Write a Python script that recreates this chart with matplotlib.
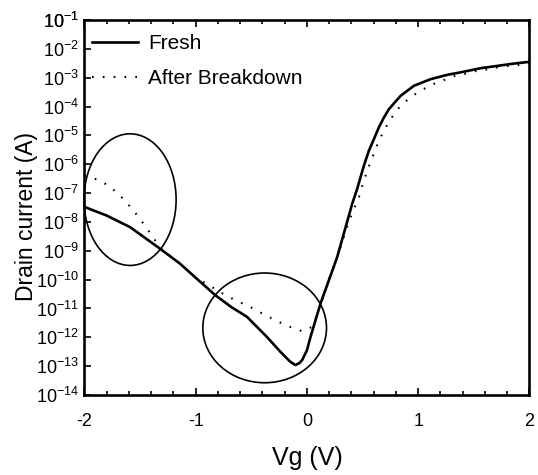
import numpy as np
import matplotlib
matplotlib.use("Agg")
import matplotlib.pyplot as plt
from matplotlib import font_manager
from matplotlib.patches import Ellipse

# ---------------- data ----------------
fresh_vg = [-2.0, -1.8, -1.59, -1.32, -1.14, -0.99, -0.824, -0.68, -0.539, -0.359,
            -0.239, -0.149, -0.104, -0.07, -0.043, 0.0, 0.032, 0.122, 0.272, 0.407,
            0.452, 0.512, 0.557, 0.602, 0.647, 0.692, 0.737, 0.842, 0.962, 1.113,
            1.263, 1.413, 1.563, 1.713, 1.863, 2.0]
fresh_log10_id = [-7.48, -7.78, -8.18, -8.93, -9.45, -9.97, -10.54, -10.95, -11.29, -11.99,
                  -12.50, -12.85, -12.96, -12.90, -12.79, -12.45, -11.99, -10.83, -9.22, -7.37,
                  -6.85, -6.05, -5.53, -5.13, -4.72, -4.38, -4.09, -3.63, -3.28, -3.05,
                  -2.90, -2.79, -2.67, -2.59, -2.51, -2.45]

after_vg = [-2.0, -1.854, -1.755, -1.659, -1.566, -1.485, -1.401, -1.32, -1.14, -0.99,
            -0.914, -0.815, -0.719, -0.623, -0.524, -0.428, -0.335, -0.239, -0.140, -0.043,
            0.056, 0.19, 0.297, 0.38, 0.467, 0.503, 0.542, 0.587, 0.632, 0.683,
            0.752, 0.842, 0.948, 1.038, 1.137, 1.233, 1.329, 1.428, 1.527, 1.623,
            1.728, 1.818, 1.908, 2.0]
after_log10_id = [-6.39, -6.57, -6.83, -7.17, -7.57, -7.98, -8.43, -8.90, -9.45, -9.97,
                  -10.12, -10.35, -10.57, -10.75, -10.92, -11.12, -11.31, -11.49, -11.66, -11.79,
                  -11.62, -10.09, -8.93, -7.95, -7.14, -6.68, -6.22, -5.78, -5.33, -4.90,
                  -4.43, -3.97, -3.63, -3.42, -3.22, -3.08, -2.94, -2.86, -2.76, -2.71,
                  -2.63, -2.59, -2.56, -2.51]

series_labels = ["Fresh", "After Breakdown"]
x_ticks = [-2, -1, 0, 1, 2]
x_tick_labels = ["-2", "-1", "0", "1", "2"]
y_exponents = list(range(-14, 0))
x_label = "Vg (V)"
y_label = "Drain current (A)"

# ---------------- fonts ----------------
def has_font(name):
    try:
        font_manager.findfont(font_manager.FontProperties(family=name), fallback_to_default=False)
        return True
    except Exception:
        return False

base_font = "Liberation Sans" if has_font("Liberation Sans") else "DejaVu Sans"

plt.rcParams["font.family"] = [base_font, "DejaVu Sans"]
plt.rcParams["mathtext.fontset"] = "custom"
plt.rcParams["mathtext.rm"] = base_font
plt.rcParams["mathtext.it"] = base_font
plt.rcParams["mathtext.bf"] = base_font
plt.rcParams["axes.unicode_minus"] = False

# ---------------- figure ----------------
fig = plt.figure(figsize=(5.38, 4.75), dpi=100)
ax = fig.add_axes([0.157, 0.1684, 0.827, 0.7895])

ax.plot(fresh_vg, 10.0 ** np.array(fresh_log10_id), color="black", lw=1.9,
        solid_joinstyle="round", label=series_labels[0])
ax.plot(after_vg, 10.0 ** np.array(after_log10_id), color="black", lw=1.5,
        linestyle=(0, (0.8, 4.4)), label=series_labels[1])

ax.set_yscale("log")
ax.set_xlim(-2, 2)
ax.set_ylim(1e-14, 1e-1)

ax.set_yticks([10.0 ** e for e in y_exponents + [-1]])
ax.set_yticklabels([r"$10^{%d}$" % e for e in y_exponents + [-1]])
ax.yaxis.set_minor_locator(matplotlib.ticker.NullLocator())
ax.set_xticks(x_ticks)
ax.set_xticklabels(x_tick_labels)
ax.xaxis.set_minor_locator(matplotlib.ticker.MultipleLocator(0.2))

ax.tick_params(axis="x", which="major", direction="in", length=5, width=1.2,
               top=True, labelsize=13, pad=13)
ax.tick_params(axis="x", which="minor", direction="in", length=3, width=1.2, top=True)
ax.tick_params(axis="y", which="major", direction="in", length=5, width=1.2,
               right=False, labelsize=13, pad=4)

for sp in ax.spines.values():
    sp.set_linewidth(1.9)

ax.set_xlabel(x_label, fontsize=18)
ax.set_ylabel(y_label, fontsize=16.5)
ax.xaxis.set_label_coords(0.5, -0.135)
ax.yaxis.set_label_coords(-0.105, 0.475)

leg = ax.legend(loc="upper left", bbox_to_anchor=(0.017, 0.962), frameon=False,
                borderpad=0, borderaxespad=0, handlelength=2.2, handletextpad=0.48,
                labelspacing=0.75, prop={"size": 15})

# annotation ellipses (axes-fraction coordinates)
ax.add_patch(Ellipse((0.1025, 0.521), 0.207, 0.351, transform=ax.transAxes,
                     fill=False, ec="black", lw=1.2, clip_on=False))
ax.add_patch(Ellipse((0.405, 0.179), 0.278, 0.2926, transform=ax.transAxes,
                     fill=False, ec="black", lw=1.2, clip_on=False))

fig.savefig("out.png", dpi=100)
